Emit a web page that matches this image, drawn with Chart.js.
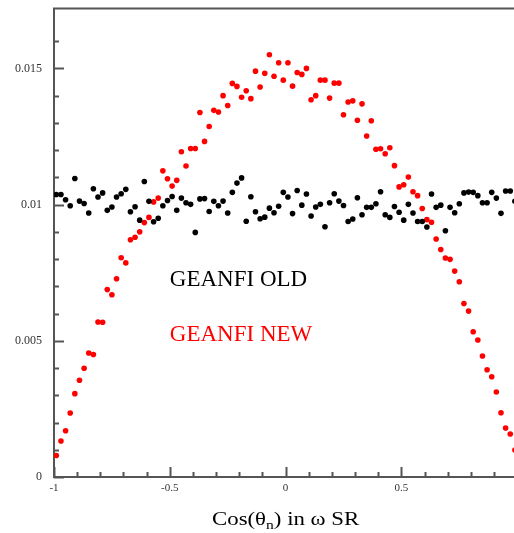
<!DOCTYPE html>
<html><head><meta charset="utf-8">
<script src="https://cdn.jsdelivr.net/npm/chart.js@4/dist/chart.umd.min.js"></script>
<style>
html,body{margin:0;padding:0;background:#fff;overflow:hidden;width:514px;height:533px}
#wrap{position:relative;width:520px;height:533px}
canvas{display:block}
</style></head><body>
<div id="wrap"><canvas id="c" width="520" height="533"></canvas></div>
<script>
// bin centres of cos(theta_n)
const cosTheta = [
 -0.99,-0.97,-0.95,-0.93,-0.91,-0.89,-0.87,-0.85,-0.83,-0.81,
 -0.79,-0.77,-0.75,-0.73,-0.71,-0.69,-0.67,-0.65,-0.63,-0.61,
 -0.59,-0.57,-0.55,-0.53,-0.51,-0.49,-0.47,-0.45,-0.43,-0.41,
 -0.39,-0.37,-0.35,-0.33,-0.31,-0.29,-0.27,-0.25,-0.23,-0.21,
 -0.19,-0.17,-0.15,-0.13,-0.11,-0.09,-0.07,-0.05,-0.03,-0.01,
  0.01, 0.03, 0.05, 0.07, 0.09, 0.11, 0.13, 0.15, 0.17, 0.19,
  0.21, 0.23, 0.25, 0.27, 0.29, 0.31, 0.33, 0.35, 0.37, 0.39,
  0.41, 0.43, 0.45, 0.47, 0.49, 0.51, 0.53, 0.55, 0.57, 0.59,
  0.61, 0.63, 0.65, 0.67, 0.69, 0.71, 0.73, 0.75, 0.77, 0.79,
  0.81, 0.83, 0.85, 0.87, 0.89, 0.91, 0.93, 0.95, 0.97, 0.99
];
// GEANFI OLD
const oldValues = [
 0.01037,0.01037,0.01018,0.00996,0.01096,0.01013,0.01004,0.00969,0.01058,0.01028,
 0.01043,0.00979,0.00991,0.01028,0.01040,0.01056,0.00974,0.00992,0.00943,0.01085,
 0.01012,0.00937,0.00950,0.00996,0.01015,0.01030,0.00979,0.01024,0.01007,0.01001,
 0.00898,0.01021,0.01022,0.00975,0.01012,0.00996,0.01013,0.00969,0.01045,0.01079,
 0.01098,0.00939,0.01029,0.00974,0.00948,0.00954,0.00987,0.00970,0.00994,0.01045,
 0.01028,0.00967,0.01052,0.00998,0.01039,0.00958,0.00991,0.01001,0.00919,0.01007,
 0.01040,0.01013,0.00997,0.00938,0.00947,0.01025,0.00963,0.00990,0.00990,0.01003,
 0.01047,0.00963,0.00953,0.00993,0.00972,0.00943,0.01001,0.00969,0.00938,0.00938,
 0.00918,0.01039,0.00990,0.00998,0.00904,0.00990,0.00970,0.01003,0.01043,0.01046,
 0.01045,0.01033,0.01007,0.01007,0.01045,0.01024,0.00968,0.01050,0.01050,0.01012
];
// GEANFI NEW
const newValues = [
 0.00079,0.00132,0.00170,0.00235,0.00306,0.00355,0.00399,0.00455,0.00450,0.00569,
 0.00568,0.00688,0.00669,0.00728,0.00805,0.00786,0.00871,0.00880,0.00900,0.00934,
 0.00953,0.01010,0.01024,0.01124,0.01095,0.01068,0.01089,0.01194,0.01142,0.01206,
 0.01206,0.01338,0.01232,0.01287,0.01346,0.01340,0.01400,0.01364,0.01445,0.01434,
 0.01394,0.01418,0.01389,0.01490,0.01432,0.01482,0.01550,0.01471,0.01521,0.01457,
 0.01521,0.01435,0.01485,0.01478,0.01500,0.01385,0.01400,0.01457,0.01457,0.01391,
 0.01446,0.01446,0.01330,0.01377,0.01381,0.01310,0.01370,0.01252,0.01308,0.01203,
 0.01205,0.01187,0.01209,0.01143,0.01065,0.01073,0.01101,0.01047,0.01033,0.00986,
 0.00945,0.00935,0.00874,0.00835,0.00804,0.00799,0.00756,0.00717,0.00637,0.00609,
 0.00533,0.00503,0.00444,0.00394,0.00368,0.00312,0.00236,0.00180,0.00158,0.00099
];
const seriesNames = ['GEANFI OLD', 'GEANFI NEW'];
const xTickLabels = ['-1', '-0.5', '0', '0.5'];
const yTickLabels = ['0', '0.005', '0.01', '0.015'];
const xTitleParts = ['Cos(\u03B8', 'n', ') in \u03C9 SR'];

const SERIF = '"Liberation Serif", "Times New Roman", serif';
const AXIS_COL = '#555';

const toPoints = vals => cosTheta.map((c, i) => ({ x: c, y: vals[i] }));

const decorPlugin = {
  id: 'decor',
  afterDraw(chart) {
    const { ctx, chartArea: a, scales: { x, y } } = chart;
    ctx.save();
    ctx.strokeStyle = AXIS_COL;
    ctx.lineWidth = 2;
    // inward ticks on y axis
    y.ticks.forEach(t => {
      const k = Math.round(t.value * 1000);
      if (Math.abs(t.value * 1000 - k) > 1e-6) return;
      const len = (k % 5 === 0) ? 10 : 5;
      const py = Math.round(y.getPixelForValue(t.value)) + 0.5;
      ctx.beginPath(); ctx.moveTo(a.left, py); ctx.lineTo(a.left + len, py); ctx.stroke();
    });
    // inward ticks on x axis
    x.ticks.forEach(t => {
      const k = Math.round(t.value * 10);
      if (Math.abs(t.value * 10 - k) > 1e-6) return;
      const len = (k % 5 === 0) ? 10 : 5;
      const px = Math.round(x.getPixelForValue(t.value)) + 0.5;
      ctx.beginPath(); ctx.moveTo(px, a.bottom); ctx.lineTo(px, a.bottom - len); ctx.stroke();
    });
    // top and right frame
    ctx.beginPath(); ctx.moveTo(a.left - 1, a.top); ctx.lineTo(a.right, a.top); ctx.stroke();
    ctx.beginPath(); ctx.moveTo(a.right, a.top); ctx.lineTo(a.right, a.bottom); ctx.stroke();

    // legend texts placed in data coordinates
    ctx.font = '23px ' + SERIF;
    ctx.textBaseline = 'alphabetic';
    ctx.textAlign = 'left';
    ctx.fillStyle = '#000';
    ctx.fillText(seriesNames[0], x.getPixelForValue(-0.5), y.getPixelForValue(0.007));
    ctx.fillStyle = '#ff0000';
    ctx.fillText(seriesNames[1], x.getPixelForValue(-0.5), y.getPixelForValue(0.005));

    // x axis title with subscript
    const big = '19px ' + SERIF, small = '13px ' + SERIF;
    ctx.font = big; const w0 = ctx.measureText(xTitleParts[0]).width;
    ctx.font = small; const w1 = ctx.measureText(xTitleParts[1]).width;
    ctx.font = big; const w2 = ctx.measureText(xTitleParts[2]).width;
    const sx = 1.2;
    const total = (w0 + w1 + w2) * sx;
    const cx = x.getPixelForValue(0);
    const base = chart.height - 8;
    ctx.fillStyle = '#000';
    ctx.translate(cx - total / 2, base);
    ctx.scale(sx, 1);
    ctx.font = big; ctx.fillText(xTitleParts[0], 0, 0);
    ctx.font = small; ctx.fillText(xTitleParts[1], w0, 4);
    ctx.font = big; ctx.fillText(xTitleParts[2], w0 + w1, 0);
    ctx.restore();
  }
};

new Chart(document.getElementById('c'), {
  type: 'scatter',
  data: {
    datasets: [
      { label: seriesNames[0], data: toPoints(oldValues), backgroundColor: '#000', borderWidth: 0, pointRadius: 2.8, pointHoverRadius: 2.8 },
      { label: seriesNames[1], data: toPoints(newValues), backgroundColor: '#ff0000', borderWidth: 0, pointRadius: 2.8, pointHoverRadius: 2.8 }
    ]
  },
  options: {
    responsive: false,
    devicePixelRatio: 1,
    animation: false,
    events: [],
    layout: { padding: { top: 8.5, right: 2.5, left: 0, bottom: 0 } },
    plugins: { legend: { display: false }, tooltip: { enabled: false } },
    scales: {
      x: {
        type: 'linear', min: -1, max: 1,
        grid: { display: false, drawTicks: false },
        border: { display: true, color: AXIS_COL, width: 2 },
        ticks: {
          stepSize: 0.1, autoSkip: false, maxRotation: 0, padding: 5,
          color: '#333', font: { family: SERIF, size: 11 },
          callback: v => { const s = String(Math.round(v * 10) / 10); return xTickLabels.includes(s) ? s : ''; }
        },
        afterFit: s => { s.height = 56; s.paddingLeft = 0; s.paddingRight = 0; }
      },
      y: {
        type: 'linear', min: 0, max: 0.0172,
        grid: { display: false, drawTicks: false },
        border: { display: true, color: AXIS_COL, width: 2 },
        ticks: {
          stepSize: 0.001, autoSkip: false, padding: 12,
          color: '#333', font: { family: SERIF, size: 12 },
          callback: v => { const s = String(Math.round(v * 1000) / 1000); return yTickLabels.includes(s) ? s : ''; }
        },
        afterFit: s => { s.width = 54; s.paddingTop = 0; s.paddingBottom = 0; }
      }
    }
  },
  plugins: [decorPlugin]
});
</script>
</body></html>
